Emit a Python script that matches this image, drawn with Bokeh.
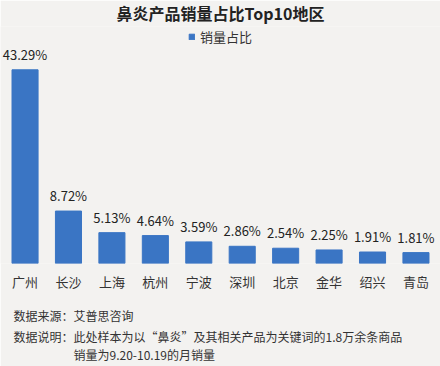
import numpy as np
from bokeh.plotting import figure
from bokeh.core.properties import value
from bokeh.models import ColumnDataSource, FactorRange, LabelSet, Legend, LegendItem, Title
from bokeh.embed import file_html
from bokeh.resources import INLINE

regions = ["广州", "长沙", "上海", "杭州", "宁波", "深圳", "北京", "金华", "绍兴", "青岛"]
shares = [43.29, 8.72, 5.13, 4.64, 3.59, 2.86, 2.54, 2.25, 1.91, 1.81]
share_labels = ["43.29%", "8.72%", "5.13%", "4.64%", "3.59%", "2.86%", "2.54%", "2.25%", "1.91%", "1.81%"]

# the reference truncates the tallest bar (axis break)
BREAK_AT = 32.2

BG = "#f3f2f0"
FONT = "'Noto Sans CJK SC', 'Noto Sans', sans-serif"

shown = np.minimum(np.array(shares), BREAK_AT)
src = ColumnDataSource(dict(region=regions, share=shares, shown=shown, lab=share_labels))

xr = FactorRange(*regions, range_padding=0.065, range_padding_units="absolute")
p = figure(width=440, height=366, x_range=xr, y_range=(0, 39.4),
           output_backend="svg", toolbar_location=None,
           background_fill_color=BG, border_fill_color=BG,
           min_border_left=0, min_border_right=0, min_border_top=0, min_border_bottom=0)
p.outline_line_color = None
p.grid.grid_line_color = None
p.yaxis.visible = False

p.title.text = "鼻炎产品销量占比Top10地区"
p.title.align = "center"
p.title.vertical_align = "top"
p.title.text_font = FONT
p.title.text_font_size = "16px"
p.title.text_font_style = "bold"
p.title.text_color = "#222222"
p.title.standoff = 0

r = p.vbar(x="region", top="shown", width=0.6, source=src, color="#3a75c4")

labels = LabelSet(x="region", y="shown", text="lab", source=src, text_align="center",
                  text_baseline="bottom", y_offset=6, text_font=value(FONT),
                  text_font_size=value("13px"), text_color="#222222")
p.add_layout(labels)

leg = Legend(items=[LegendItem(label="销量占比", renderers=[r])], location="top_center",
             orientation="horizontal", glyph_width=7, glyph_height=7,
             label_text_font=FONT, label_text_font_size="13px", label_text_color="#333333",
             background_fill_alpha=0, border_line_color=None, margin=1, padding=2)
p.add_layout(leg)

ax = p.xaxis[0]
ax.axis_line_color = None
ax.major_tick_line_color = None
ax.minor_tick_line_color = None
ax.major_tick_out = 0
ax.major_tick_in = 0
ax.major_label_text_font = FONT
ax.major_label_text_font_size = "13px"
ax.major_label_text_color = "#333333"
ax.major_label_standoff = 8

spacer = Title(text=" ", text_font_size="8px", standoff=0)
p.add_layout(spacer, "below")

note_source = "数据来源：艾普思咨询"
note_desc = "数据说明：此处样本为以“鼻炎”及其相关产品为关键词的1.8万余条商品\n\u3000\u3000\u3000\u3000\u3000销量为9.20-10.19的月销量"
for txt, st in [(note_source, 0), (note_desc, 6)]:
    t = Title(text=txt, align="left", offset=13, standoff=st, text_font=FONT,
              text_font_size="12px", text_font_style="normal", text_color="#333333",
              text_line_height=1.07)
    p.add_layout(t, "below")

open("out.html", "w").write(file_html(p, INLINE))
